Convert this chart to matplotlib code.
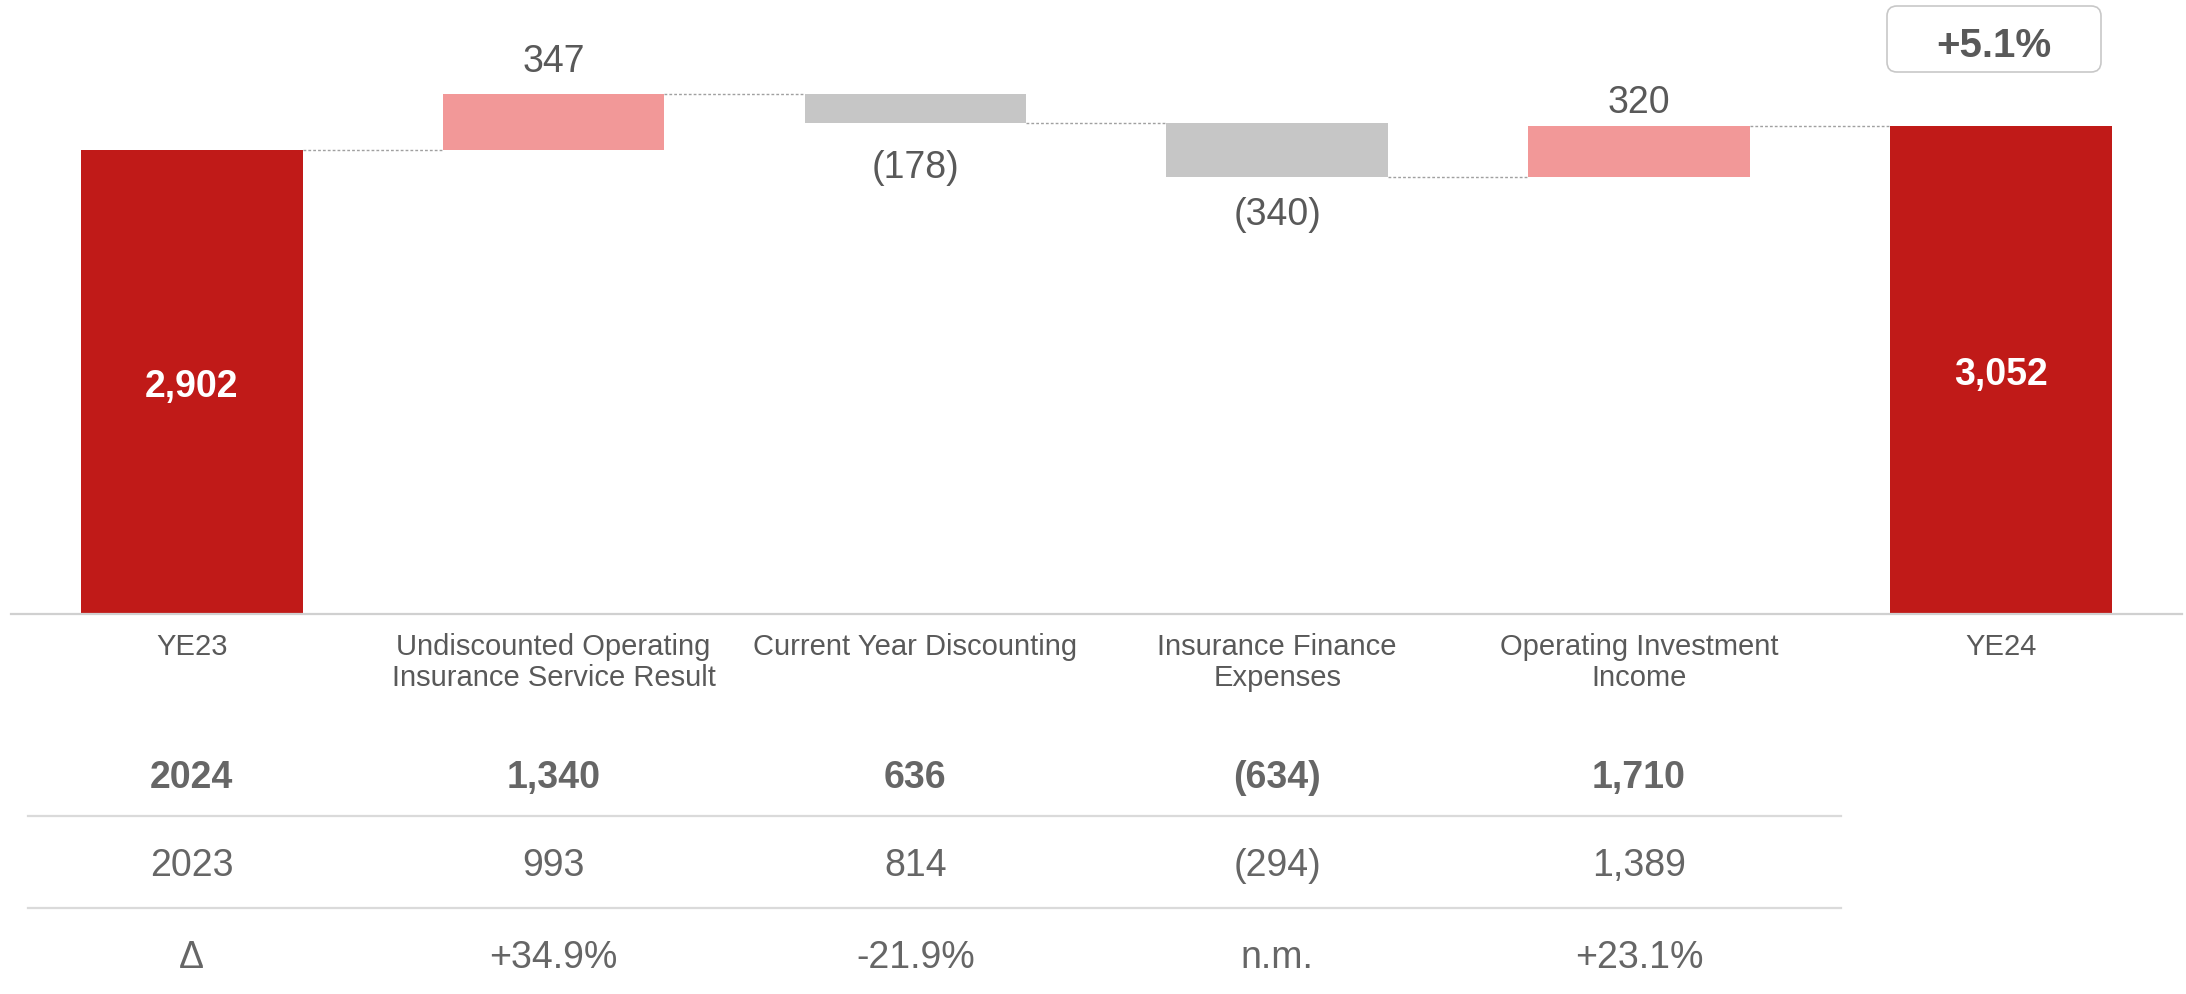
import matplotlib
matplotlib.use("Agg")
import matplotlib.pyplot as plt
import matplotlib.transforms as mtransforms
from matplotlib.lines import Line2D
from matplotlib.patches import FancyBboxPatch

plt.rcParams['font.family'] = ['Liberation Sans', 'DejaVu Sans']

# data
categories = ["YE23", "Undiscounted Operating\nInsurance Service Result", "Current Year Discounting",
              "Insurance Finance\nExpenses", "Operating Investment\nIncome", "YE24"]
start_value = 2902
changes = [347, -178, -340, 320]
end_value = 3052
change_labels = ["347", "(178)", "(340)", "320"]
total_labels = ["2,902", "3,052"]
growth_label = "+5.1%"

row_labels = ["2024", "2023", "\u0394"]
row_2024 = ["1,340", "636", "(634)", "1,710"]
row_2023 = ["993", "814", "(294)", "1,389"]
row_delta = ["+34.9%", "-21.9%", "n.m.", "+23.1%"]

RED = "#C01A18"
PINK = "#F29898"
GREY = "#C6C6C6"
TXT = "#595959"
TBL = "#666666"

fig = plt.figure(figsize=(21.86, 9.95), dpi=100)
ax = fig.add_axes([0.005, 0.382, 0.993, 0.618])

width = 0.613
x = list(range(len(categories)))
label_offsets = [24, -32, -27, 17]  # points from bar end

# totals
ax.bar(x[0], start_value, width, color=RED, zorder=2)
ax.bar(x[-1], end_value, width, color=RED, zorder=2)

# steps
level = start_value
levels = [level]
for i, ch in enumerate(changes):
    bottom = level if ch > 0 else level + ch
    ax.bar(x[i + 1], abs(ch), width, bottom=bottom, color=PINK if ch > 0 else GREY, zorder=2)
    ax.annotate(change_labels[i], (x[i + 1], level + ch), xytext=(0, label_offsets[i]),
                textcoords="offset points", ha="center", va="center", fontsize=27, color=TXT)
    level += ch
    levels.append(level)

# connectors
for i, lv in enumerate(levels):
    ax.plot([x[i] + width / 2, x[i + 1] - width / 2], [lv, lv], color="#A0A0A0", lw=1.0,
            ls=(0, (2, 1.5)), zorder=1)

# total labels
ax.annotate(total_labels[0], (x[0], start_value / 2), xytext=(0, -3), textcoords="offset points",
            ha="center", va="center", fontsize=27, color="white", fontweight="bold")
ax.annotate(total_labels[1], (x[-1], end_value / 2), xytext=(0, -3), textcoords="offset points",
            ha="center", va="center", fontsize=27, color="white", fontweight="bold")

ax.set_xlim(-0.5, 5.5)
ax.set_ylim(0, 3843)
ax.set_yticks([])
ax.set_xticks(x)
ax.set_xticklabels(categories, fontsize=21, color=TXT, linespacing=1.15)
ax.tick_params(axis="x", length=0, pad=13)
for s in ["top", "right", "left"]:
    ax.spines[s].set_visible(False)
ax.spines["bottom"].set_color("#D0D0D0")
ax.spines["bottom"].set_linewidth(1.6)

# growth box
box = FancyBboxPatch((18.87, 9.22), 2.14, 0.66, boxstyle="round,pad=0,rounding_size=0.1",
                     transform=fig.dpi_scale_trans, facecolor="white", edgecolor="#C8C8C8", lw=1.2)
fig.add_artist(box)
fig.text(19.94 / 21.86, 9.49 / 9.95, growth_label, ha="center", va="center", fontsize=29,
         color=TXT, fontweight="bold")

# table
trans = mtransforms.blended_transform_factory(ax.transData, fig.transFigure)
row_y = [0.218, 0.130, 0.037]
rows = [row_2024, row_2023, row_delta]
for r, (lab, vals, y) in enumerate(zip(row_labels, rows, row_y)):
    weight = "bold" if r == 0 else "normal"
    ax.text(x[0], y, lab, transform=trans, ha="center", va="center", fontsize=27,
            color=TBL, fontweight=weight, clip_on=False)
    for i, v in enumerate(vals):
        ax.text(x[i + 1], y, v, transform=trans, ha="center", va="center", fontsize=27,
                color=TBL, fontweight=weight, clip_on=False)

for y in [0.179, 0.0866]:
    fig.add_artist(Line2D([0.0128, 0.842], [y, y], transform=fig.transFigure, color="#DADADA", lw=1.6))

fig.savefig("out.png", dpi=100, facecolor="white")
